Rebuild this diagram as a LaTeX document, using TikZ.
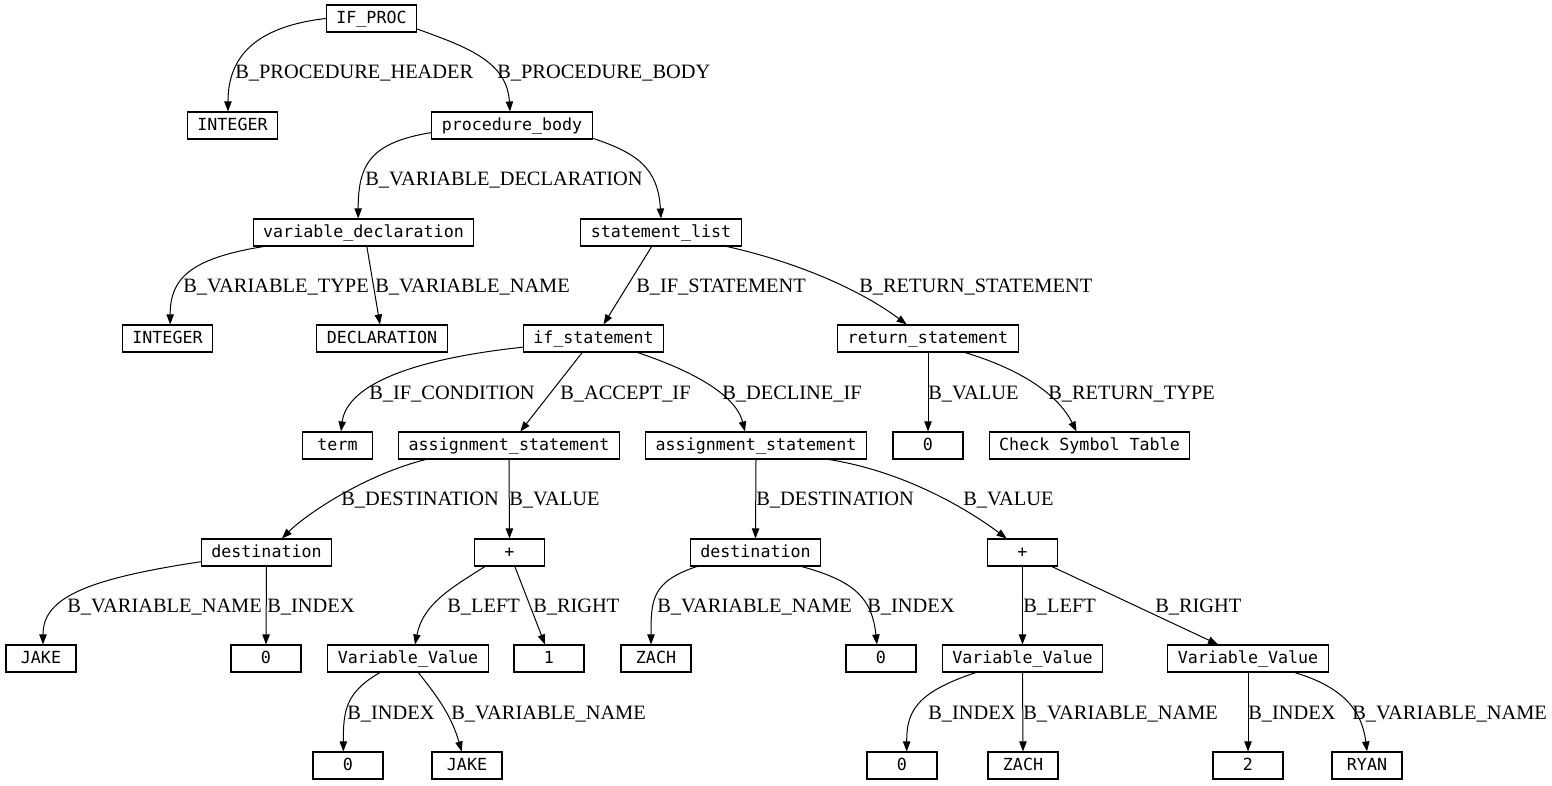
\documentclass[tikz,border=0pt]{standalone}
\usepackage{fontspec}
\setmainfont{Liberation Serif}
\newfontfamily\boxfont{DejaVu Sans Mono}
\usetikzlibrary{arrows.meta}

\begin{document}
\begin{tikzpicture}[x=0.75pt, y=-0.75pt,
	box/.style={draw, line width=0.8pt, minimum width=52.5pt, minimum height=20.25pt, inner xsep=7.5pt, inner ysep=0pt, text height=9.5pt, text depth=2.5pt, font=\boxfont\fontsize{12.5}{14}\selectfont},
	edge/.style={line width=0.75pt, -{Triangle[length=7.5pt, width=5.5pt]}},
	lbl/.style={anchor=base west, inner sep=0pt, font=\fontsize{15.3}{18}\selectfont}]
\useasboundingbox (0,0) rectangle (1552,785);
\node [box] (ifproc) at (371.5,18.5) {IF\_PROC};
\node [box] (intA) at (232.5,125.5) {INTEGER};
\node [box] (procbody) at (512,125.5) {procedure\_body};
\node [box] (vardecl) at (363.5,232.5) {variable\_declaration};
\node [box] (stmtlist) at (661,232.5) {statement\_list};
\node [box] (intB) at (167.5,338.5) {INTEGER};
\node [box] (decl) at (382,338.5) {DECLARATION};
\node [box] (ifstmt) at (593.5,338.5) {if\_statement};
\node [box] (retstmt) at (928,338.5) {return\_statement};
\node [box] (term) at (337.5,445.5) {term};
\node [box] (assignA) at (509,445.5) {assignment\_statement};
\node [box] (assignB) at (756,445.5) {assignment\_statement};
\node [box] (retval) at (928,445.5) {0};
\node [box] (symtab) at (1089.5,445.5) {Check Symbol Table};
\node [box] (destA) at (266.5,552.5) {destination};
\node [box] (plusA) at (509.5,552.5) {+};
\node [box] (destB) at (755.5,552.5) {destination};
\node [box] (plusB) at (1022.5,552.5) {+};
\node [box] (jakeA) at (41,658.5) {JAKE};
\node [box] (indexA) at (266,658.5) {0};
\node [box] (varvalA) at (408,658.5) {Variable\_Value};
\node [box] (one) at (549,658.5) {1};
\node [box] (zachA) at (656,658.5) {ZACH};
\node [box] (indexB) at (881,658.5) {0};
\node [box] (varvalB) at (1022.5,658.5) {Variable\_Value};
\node [box] (varvalC) at (1248,658.5) {Variable\_Value};
\node [box] (indexC) at (348,765.5) {0};
\node [box] (jakeB) at (467,765.5) {JAKE};
\node [box] (indexD) at (902,765.5) {0};
\node [box] (zachB) at (1023,765.5) {ZACH};
\node [box] (two) at (1248,765.5) {2};
\node [box] (ryan) at (1367,765.5) {RYAN};

\draw [edge] (ifproc.west) .. controls +(-70,8) and +(0,-55) .. ([xshift=-3.4]intA.north);
\draw [edge] (ifproc.-13) .. controls +(50,18) and +(-3,-50) .. ([xshift=-1.5]procbody.north);
\draw [edge] (procbody.185) .. controls +(-60,10) and +(0,-55) .. ([xshift=-4]vardecl.north);
\draw [edge] (procbody.-9) .. controls +(45,15) and +(-3,-50) .. (stmtlist.north);
\draw [edge] (vardecl.188) .. controls +(-75,12) and +(0,-45) .. ([xshift=2]intB.north);
\draw [edge] ([xshift=2.5]vardecl.south) -- ([xshift=-1.5]decl.north);
\draw [edge] ([xshift=-7]stmtlist.south) -- ([xshift=7.5]ifstmt.north);
\draw [edge] (stmtlist.-12) .. controls +(80,18) and +(-40,-30) .. ([xshift=-16]retstmt.north);
\draw [edge] (ifstmt.187) .. controls +(-130,14) and +(5,-40) .. ([xshift=2.6]term.north);
\draw [edge] ([xshift=-8.5]ifstmt.south) -- ([xshift=8.5]assignA.north);
\draw [edge] ([xshift=33]ifstmt.south) .. controls +(45,15) and +(-10,-40) .. ([xshift=-8.3]assignB.north);
\draw [edge] (retstmt.south) -- (retval.north);
\draw [edge] ([xshift=27.75]retstmt.south) .. controls +(50,15) and +(-20,-40) .. ([xshift=-9.75]symtab.north);
\draw [edge] ([xshift=-62.5]assignA.south) .. controls +(-60,15) and +(25,-25) .. ([xshift=11.6]destA.north);
\draw [edge] (assignA.south) -- (plusA.north);
\draw [edge] (assignB.south) -- (destB.north);
\draw [edge] ([xshift=54.75]assignB.south) .. controls +(75,12) and +(-40,-30) .. ([xshift=-11.9]plusB.north);
\draw [edge] (destA.188) .. controls +(-120,18) and +(0,-45) .. ([xshift=1.5]jakeA.north);
\draw [edge] (destA.south) -- (indexA.north);
\draw [edge] ([xshift=-18.4]plusA.south) .. controls +(-35,22) and +(8,-40) .. ([xshift=5.25]varvalA.north);
\draw [edge] ([xshift=4]plusA.south) -- ([xshift=-3]one.north);
\draw [edge] ([xshift=-44]destB.south) .. controls +(-45,15) and +(0,-45) .. ([xshift=-3.75]zachA.north);
\draw [edge] ([xshift=34.6]destB.south) .. controls +(55,15) and +(-5,-45) .. ([xshift=-3]indexB.north);
\draw [edge] (plusB.south) -- (varvalB.north);
\draw [edge] ([xshift=22]plusB.south) -- ([xshift=-22.5]varvalC.north);
\draw [edge] ([xshift=-21]varvalA.south) .. controls +(-35,20) and +(0,-40) .. ([xshift=-3.5]indexC.north);
\draw [edge] ([xshift=7.7]varvalA.south) .. controls +(20,25) and +(-10,-35) .. ([xshift=-4]jakeB.north);
\draw [edge] ([xshift=-35]varvalB.south) .. controls +(-60,20) and +(0,-40) .. ([xshift=3.5]indexD.north);
\draw [edge] (varvalB.south) -- (zachB.north);
\draw [edge] (varvalC.south) -- (two.north);
\draw [edge] ([xshift=35]varvalC.south) .. controls +(50,15) and +(-5,-40) .. (ryan.north);

\node [lbl] (lHeader) at (235,78) {B\_PROCEDURE\_HEADER};
\node [lbl] (lBody) at (497,78) {B\_PROCEDURE\_BODY};
\node [lbl] (lVarDecl) at (365,185) {B\_VARIABLE\_DECLARATION};
\node [lbl] (lVarType) at (183,292) {B\_VARIABLE\_TYPE};
\node [lbl] (lVarName) at (375,292) {B\_VARIABLE\_NAME};
\node [lbl] (lIfStmt) at (636,292) {B\_IF\_STATEMENT};
\node [lbl] (lRetStmt) at (859,292) {B\_RETURN\_STATEMENT};
\node [lbl] (lIfCond) at (369,399) {B\_IF\_CONDITION};
\node [lbl] (lAccept) at (560,399) {B\_ACCEPT\_IF};
\node [lbl] (lDecline) at (722,399) {B\_DECLINE\_IF};
\node [lbl] (lRetVal) at (928,399) {B\_VALUE};
\node [lbl] (lRetType) at (1048,399) {B\_RETURN\_TYPE};
\node [lbl] (lDestA) at (341,505) {B\_DESTINATION};
\node [lbl] (lValA) at (509,505) {B\_VALUE};
\node [lbl] (lDestB) at (756,505) {B\_DESTINATION};
\node [lbl] (lValB) at (963,505) {B\_VALUE};
\node [lbl] (lNameA) at (67,612) {B\_VARIABLE\_NAME};
\node [lbl] (lIndexA) at (267,612) {B\_INDEX};
\node [lbl] (lLeftA) at (447,612) {B\_LEFT};
\node [lbl] (lRightA) at (533,612) {B\_RIGHT};
\node [lbl] (lNameB) at (657,612) {B\_VARIABLE\_NAME};
\node [lbl] (lIndexB) at (867,612) {B\_INDEX};
\node [lbl] (lLeftB) at (1023,612) {B\_LEFT};
\node [lbl] (lRightB) at (1155,612) {B\_RIGHT};
\node [lbl] (lIndexC) at (347,719) {B\_INDEX};
\node [lbl] (lNameC) at (451,719) {B\_VARIABLE\_NAME};
\node [lbl] (lIndexD) at (928,719) {B\_INDEX};
\node [lbl] (lNameD) at (1023,719) {B\_VARIABLE\_NAME};
\node [lbl] (lIndexE) at (1248,719) {B\_INDEX};
\node [lbl] (lNameE) at (1352,719) {B\_VARIABLE\_NAME};
\end{tikzpicture}
\end{document}
